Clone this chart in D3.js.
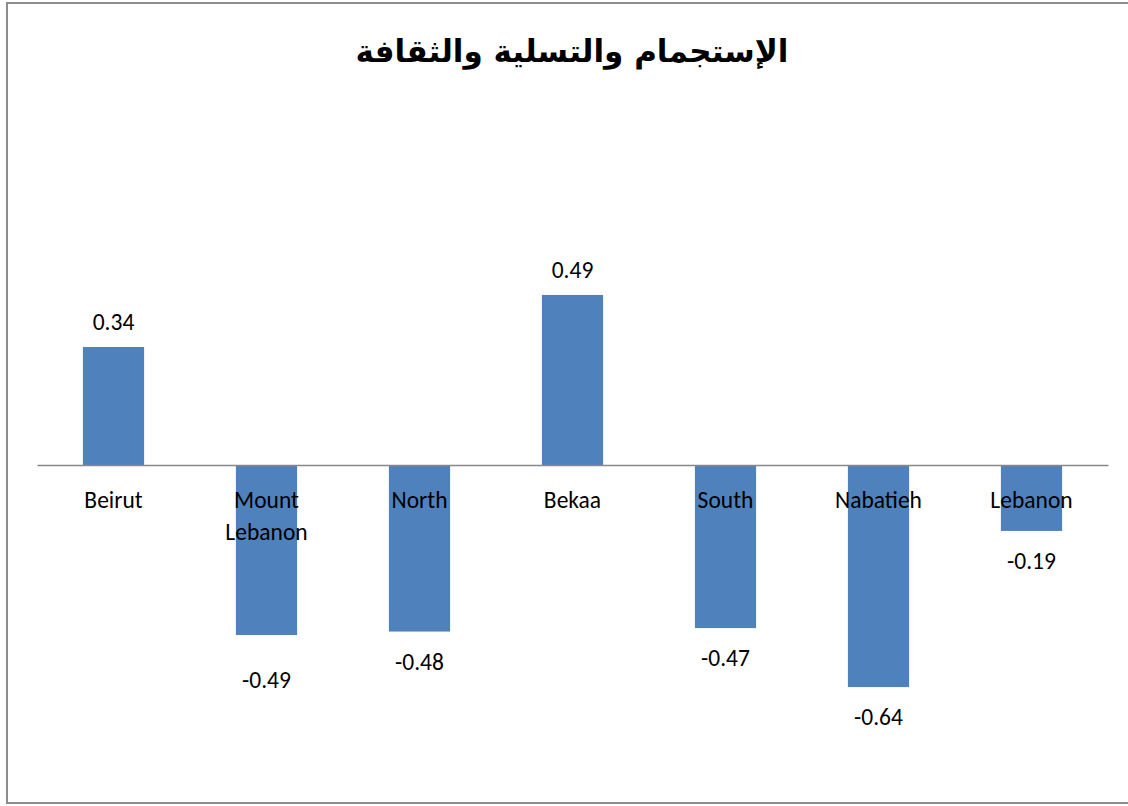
<!DOCTYPE html>
<html><head><meta charset="utf-8">
<script src="https://cdn.jsdelivr.net/npm/d3@7"></script>
<style>
body{margin:0;background:#fff;}
svg{display:block;}
</style></head>
<body>
<svg id="chart" width="1128" height="806"></svg>
<script>
const title = "الإستجمام والتسلية والثقافة";
const categories = ["Beirut", "Mount Lebanon", "North", "Bekaa", "South", "Nabatieh", "Lebanon"];
const values = [0.34, -0.49, -0.48, 0.49, -0.47, -0.64, -0.19];
const yDomain = [-0.8, 0.8];

const svg = d3.select("#chart");
const W = 1128, H = 806;
const font = "Carlito, Calibri, Lato, 'Open Sans', sans-serif";
const fs = 23.5;

svg.append("rect").attr("x", 7).attr("y", 3).attr("width", W + 10).attr("height", 800)
  .attr("fill", "#fff").attr("stroke", "#8c8c8c").attr("stroke-width", 2);

svg.append("text").attr("x", 572).attr("y", 62).attr("text-anchor", "middle")
  .attr("font-family", "'DejaVu Sans', 'Liberation Sans', Arial, sans-serif")
  .attr("font-weight", "bold").attr("font-size", 31).attr("direction", "rtl")
  .attr("fill", "#000").text(title);

const x = d3.scaleBand().domain(categories).range([37, 1108]).paddingInner(0.6).paddingOuter(0.3);
const y = d3.scaleLinear().domain(yDomain).range([465 + 0.8 * 347, 465 - 0.8 * 347]);

svg.selectAll("rect.bar").data(values).enter().append("rect").attr("class", "bar")
  .attr("x", (d, i) => x(categories[i]))
  .attr("width", x.bandwidth())
  .attr("y", d => y(Math.max(0, d)))
  .attr("height", d => Math.abs(y(d) - y(0)))
  .attr("fill", "#4F81BD");

// axis line
const axis = svg.append("g").attr("transform", `translate(0,${y(0)})`)
  .call(d3.axisBottom(x).tickSize(0).tickFormat(""));
axis.select(".domain").attr("stroke", "#888").attr("stroke-width", 1.5);

// category labels
categories.forEach((c, i) => {
  const words = c.split(" ");
  const t = svg.append("text").attr("text-anchor", "middle")
    .attr("font-family", font).attr("font-size", fs).attr("fill", "#000");
  words.forEach((w, j) => {
    t.append("tspan").attr("x", x(c) + x.bandwidth() / 2).attr("y", y(0) + 43 + j * 32).text(w);
  });
});

// value labels
const fmt = v => d3.format(".2f")(v).replace("\u2212", "-");
values.forEach((v, i) => {
  const c = categories[i];
  const twoLine = c.includes(" ");
  const ypos = v >= 0 ? y(v) - 17 : y(v) + 38 + (twoLine ? 15 : 0);
  svg.append("text").attr("x", x(c) + x.bandwidth() / 2).attr("y", ypos)
    .attr("text-anchor", "middle").attr("font-family", font).attr("font-size", fs)
    .attr("fill", "#000").text(fmt(v));
});
</script>
</body></html>
